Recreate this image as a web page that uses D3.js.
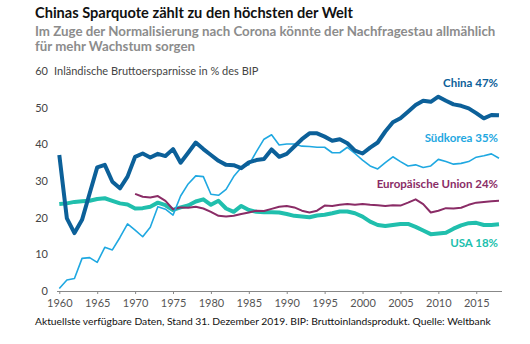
<!DOCTYPE html>
<html><head><meta charset="utf-8">
<script src="https://cdn.jsdelivr.net/npm/d3@7"></script>
<style>body{margin:0;background:#fff}svg{display:block}text{font-family:Lato,"Open Sans",sans-serif}</style>
</head><body><svg id="c" width="530" height="344"></svg>
<script>
const years = d3.range(1960, 2019);
const china = [37.1,19.8,15.8,19.4,26.6,33.7,34.4,29.8,28,31.2,36.6,37.5,36.4,37.4,36.8,38.7,35,37.7,40.5,38.7,37.1,35.5,34.4,34.3,33.5,35.1,35.7,36,38.6,36.6,37.4,39.4,41.4,43,43,42.1,41,41.4,40.3,38.3,37.5,39.1,40.5,43.5,46,47.1,48.9,50.7,51.9,51.6,53,51.9,50.9,50.5,49.8,48.5,47.1,48,47.9];
const korea = [0.7,3,3.4,8.9,9.1,7.8,11.9,11.2,14.6,18.3,16.6,14.8,17.4,23,22.3,20.7,25.9,29.2,31.4,31.2,26.4,26.1,27.7,31.2,33.7,34.4,38,41.4,42.6,39.8,40.1,40.1,39.5,39.4,39.2,39.2,37.7,37.7,39.2,37.5,35.7,34.1,33.3,35,36.6,35.3,34.1,34.4,33.7,34.1,35.9,35.3,34.6,34.8,35.3,36.5,36.9,37.4,36.2];
const euYears = d3.range(1970, 2019);
const eu = [26.5,25.7,25.5,25.9,24.6,22.3,22.8,22.7,23,22.5,21.6,20.5,20.3,20.5,21,21.4,21.9,21.8,22.4,23,23.2,22.8,21.9,21.4,21.9,23.3,23.2,23.5,23.7,23.5,23.7,23.5,23.4,23.2,23.4,23.3,24.1,25,23.7,21.4,21.9,22.6,22.5,22.7,23.5,24.1,24.3,24.5,24.6];
const usa = [23.7,23.9,24.3,24.5,24.6,25.1,25.3,24.6,23.9,23.6,22.5,22.6,23,24.1,23.4,22.1,22.8,23.3,24.4,25,23.5,24.6,22.5,21.6,23.2,22.1,21.6,21.5,21.5,21.4,21,20.5,20.3,20.1,20.6,20.8,21.2,21.7,21.7,21.2,20.3,18.9,18,17.7,18,18.3,18.3,17.5,16.5,15.5,15.7,15.9,17,17.9,18.5,18.6,18,18,18.2];
const xTicks = [1960,1965,1970,1975,1980,1985,1990,1995,2000,2005,2010,2015];
const yTicks = [0,10,20,30,40,50];

const svg = d3.select("#c");
const x = d3.scaleLinear().domain([1960, 2018]).range([59.3, 499]);
const y = d3.scaleLinear().domain([0, 60]).range([291, 71]);

// titles
svg.append("text").attr("x",35).attr("y",18).attr("font-size",14.6).attr("font-weight",700).attr("fill","#111")
  .text("Chinas Sparquote zählt zu den höchsten der Welt");
svg.append("text").attr("x",35).attr("y",36).attr("font-size",13.3).attr("font-weight",700).attr("fill","#8c8c8c")
  .text("Im Zuge der Normalisierung nach Corona könnte der Nachfragestau allmählich");
svg.append("text").attr("x",35).attr("y",51).attr("font-size",13.3).attr("font-weight",700).attr("fill","#8c8c8c")
  .text("für mehr Wachstum sorgen");
svg.append("text").attr("x",54).attr("y",75).attr("font-size",11).attr("fill","#444")
  .text("Inländische Bruttoersparnisse in % des BIP");
svg.append("text").attr("x",48).attr("y",75).attr("font-size",11).attr("fill","#444").attr("text-anchor","end").text("60");

// y labels
svg.append("g").selectAll("text").data(yTicks).join("text")
  .attr("x",48).attr("y",d=>y(d)+4).attr("text-anchor","end").attr("font-size",11).attr("fill","#444").text(d=>d);

// x axis
const xa = svg.append("g").attr("transform","translate(0,291)")
  .call(d3.axisBottom(x).tickValues(xTicks).tickFormat(d3.format("d")).tickSize(3).tickPadding(5));
xa.select(".domain").attr("d","M57,0.5H502").attr("stroke","#888");
xa.selectAll(".tick line").attr("stroke","#888");
xa.selectAll(".tick text").attr("font-size",11).attr("fill","#555").attr("font-family","Lato, sans-serif");

const line = d3.line().x(d=>x(d[0])).y(d=>y(d[1]));
const series = [
  {yrs: years, v: usa, c:"#20bfad", w:4},
  {yrs: euYears, v: eu, c:"#8a2c66", w:2},
  {yrs: years, v: korea, c:"#1fa8e1", w:1.6},
  {yrs: years, v: china, c:"#0c6099", w:4}
];
series.forEach(s=>{
  svg.append("path").datum(s.yrs.map((yr,i)=>[yr,s.v[i]]))
    .attr("d",line).attr("fill","none").attr("stroke",s.c).attr("stroke-width",s.w).attr("stroke-linejoin","round");
});

const labels = [
  {t:"China 47%", c:"#0c6099", yy:87},
  {t:"Südkorea 35%", c:"#1fa8e1", yy:142},
  {t:"Europäische Union 24%", c:"#8a2c66", yy:188},
  {t:"USA 18%", c:"#20bfad", yy:247}
];
svg.append("g").selectAll("text").data(labels).join("text")
  .attr("x",498).attr("y",d=>d.yy).attr("text-anchor","end").attr("font-size",11.5).attr("font-weight",700)
  .attr("fill",d=>d.c).text(d=>d.t);

svg.append("text").attr("x",35).attr("y",325).attr("font-size",10.3).attr("fill","#111")
  .text("Aktuellste verfügbare Daten, Stand 31. Dezember 2019. BIP: Bruttoinlandsprodukt. Quelle: Weltbank");
</script></body></html>
